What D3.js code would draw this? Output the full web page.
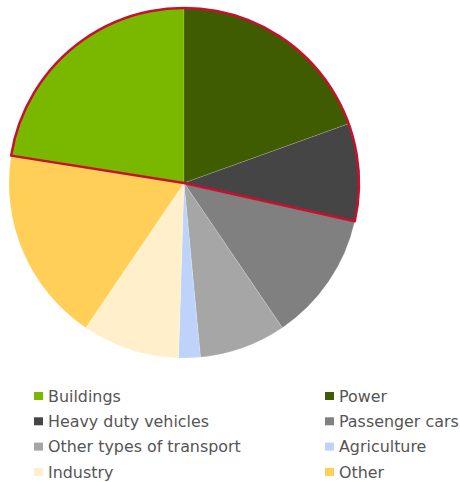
<!DOCTYPE html>
<html>
<head>
<meta charset="utf-8">
<script src="https://cdn.jsdelivr.net/npm/d3@7"></script>
<style>
body{ margin:0; background:#fff; }
.legend-text{ font: 15.9px "DejaVu Sans", Verdana, sans-serif; fill:#555; }
</style>
</head>
<body>
<div id="chart"></div>
<script>
// shares of emissions, percent
var categories = ["Buildings", "Power", "Heavy duty vehicles", "Passenger cars",
                  "Other types of transport", "Agriculture", "Industry", "Other"];
var values = [22.5, 19.5, 9, 12, 8, 2, 9, 18];
var colours = ["#7ab800", "#3f5c00", "#454545", "#808080",
               "#a6a6a6", "#bdd3fa", "#ffefca", "#ffcf57"];
// slices that get the red outline
var outlined = ["Buildings", "Power", "Heavy duty vehicles"];

var width = 460, height = 482;
var cx = 184, cy = 183, r = 175;

var svg = d3.select("#chart").append("svg")
	.attr("width", width)
	.attr("height", height);

var data = categories.map(function(c, i) { return {name: c, value: values[i], colour: colours[i]}; });
var total = d3.sum(values);
var start = -values[0] / total * 2 * Math.PI;

var pie = d3.pie()
	.sort(null)
	.value(function(d) { return d.value; })
	.startAngle(start)
	.endAngle(start + 2 * Math.PI);
var arcs = pie(data);
var arc = d3.arc().innerRadius(0).outerRadius(r);

var g = svg.append("g").attr("transform", "translate(" + cx + "," + cy + ")");

g.selectAll("path.slice")
	.data(arcs)
	.enter().append("path")
	.attr("class", "slice")
	.attr("d", arc)
	.attr("fill", function(d) { return d.data.colour; })
	.attr("stroke", "rgba(255,255,255,0.25)")
	.attr("stroke-width", 0.6);

// red outline around the grouped slices
var sel = arcs.filter(function(d) { return outlined.indexOf(d.data.name) >= 0; });
g.append("path")
	.attr("d", arc({startAngle: d3.min(sel, function(d) { return d.startAngle; }),
	                endAngle: d3.max(sel, function(d) { return d.endAngle; })}))
	.attr("fill", "none")
	.attr("stroke", "#c8102e")
	.attr("stroke-width", 2.5)
	.attr("stroke-linejoin", "round");

// legend, two columns
var colX = [34, 325], rowY0 = 396, rowH = 25.3;
var leg = svg.selectAll("g.leg")
	.data(data)
	.enter().append("g")
	.attr("class", "leg")
	.attr("transform", function(d, i) {
		return "translate(" + colX[i % 2] + "," + (rowY0 + Math.floor(i / 2) * rowH) + ")";
	});
leg.append("rect")
	.attr("x", 0).attr("y", -4)
	.attr("width", 9).attr("height", 8)
	.attr("fill", function(d) { return d.colour; });
leg.append("text")
	.attr("class", "legend-text")
	.attr("x", 14)
	.attr("dy", "0.36em")
	.text(function(d) { return d.name; });
</script>
</body>
</html>
